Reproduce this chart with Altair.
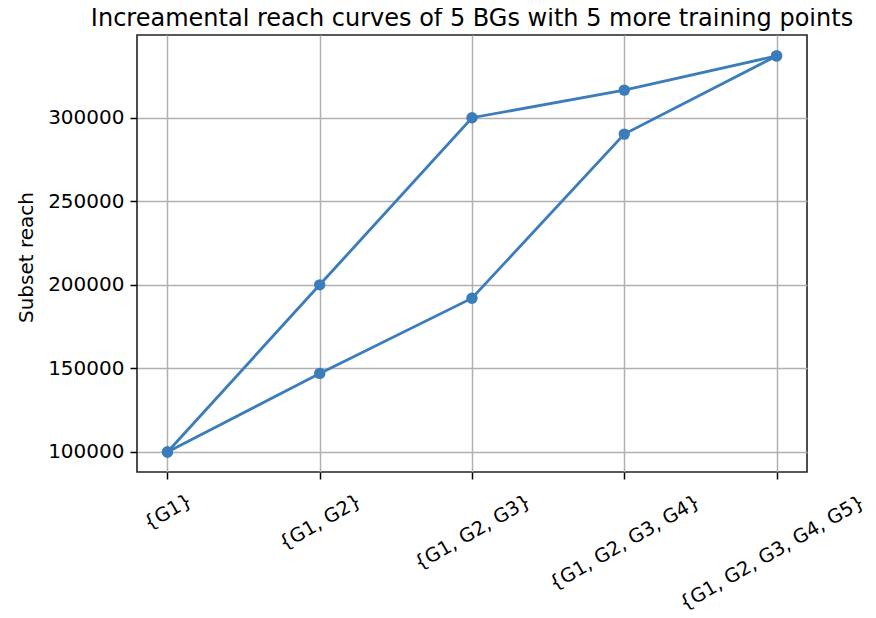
import altair as alt
import pandas as pd

categories = ["{G1}", "{G1, G2}", "{G1, G2, G3}", "{G1, G2, G3, G4}", "{G1, G2, G3, G4, G5}"]
upper_reach = [100000, 200000, 300000, 316500, 337000]
lower_reach = [100000, 147000, 192000, 290200, 337000]
series_names = ["upper", "lower"]
y_ticks = [100000, 150000, 200000, 250000, 300000]
label_pads = [32.5, 42.8, 53.0, 63.3, 73.5]
chart_title = "Increamental reach curves of 5 BGs with 5 more training points"

rows = []
for name, vals in zip(series_names, [upper_reach, lower_reach]):
    for i, (c, v) in enumerate(zip(categories, vals)):
        rows.append({"subset": c, "reach": v, "series": name, "order": i})
df = pd.DataFrame(rows)

LINE_COLOR = "#3b7dbb"
FONT = "DejaVu Sans"
W, H = 670, 437

pad_cond = {
    "condition": [
        {"test": f"datum.label == '{c}'", "value": p}
        for c, p in zip(categories[:-1], label_pads[:-1])
    ],
    "value": label_pads[-1],
}
offset_cond = {
    "condition": [{"test": f"datum.label == '{categories[-1]}'", "value": -5}],
    "value": 0,
}

x_enc = alt.X(
    "subset:N",
    sort=categories,
    scale=alt.Scale(type="point", padding=0.2),
    axis=alt.Axis(
        title=None,
        labelAngle=-30,
        labelAlign="center",
        labelBaseline="middle",
        labelPadding=pad_cond,
        labelOffset=offset_cond,
        labelFontSize=19.3,
        labelFont=FONT,
        labelColor="#000000",
        labelLimit=0,
        tickSize=7,
        tickWidth=1.5,
        tickColor="#000000",
        domain=False,
        grid=True,
        gridColor="#b0b0b0",
        gridWidth=1.5,
        labelOverlap=False,
    ),
)
y_enc = alt.Y(
    "reach:Q",
    scale=alt.Scale(domain=[88000, 349500], nice=False, zero=False),
    axis=alt.Axis(
        title="Subset reach",
        values=y_ticks,
        format="d",
        labelFontSize=20,
        labelFont=FONT,
        labelColor="#000000",
        labelPadding=6,
        tickSize=7,
        tickWidth=1.5,
        tickColor="#000000",
        domain=False,
        grid=True,
        gridColor="#b0b0b0",
        gridWidth=1.5,
        titleFont=FONT,
        titleFontSize=20,
        titleFontWeight="normal",
        titleColor="#000000",
        titleAngle=270,
        titleAlign="center",
        titleBaseline="alphabetic",
        titleX=-105,
        titleY=222,
    ),
)

base = alt.Chart(df)
lines = base.mark_line(color=LINE_COLOR, strokeWidth=2.85).encode(
    x=x_enc, y=y_enc, detail="series:N", order="order:Q"
)
points = base.mark_circle(color=LINE_COLOR, size=130, opacity=1).encode(
    x=x_enc, y=y_enc, detail="series:N"
)
title_text = (
    alt.Chart(pd.DataFrame({"t": [chart_title]}))
    .mark_text(
        font=FONT,
        fontSize=24,
        color="#000000",
        align="center",
        baseline="alphabetic",
    )
    .encode(text="t:N", x=alt.value(W / 2), y=alt.value(-9))
)

chart = (
    alt.layer(lines, points, title_text)
    .properties(
        width=W,
        height=H,
        autosize=alt.AutoSizeParams(type="none"),
        padding={"left": 129, "top": 27, "right": 60, "bottom": 140},
    )
    .configure(
        background="white",
        view=alt.ViewConfig(stroke="#222222", strokeWidth=1.6),
    )
)

chart.save("out.html", embed_options={"renderer": "svg", "actions": False})
